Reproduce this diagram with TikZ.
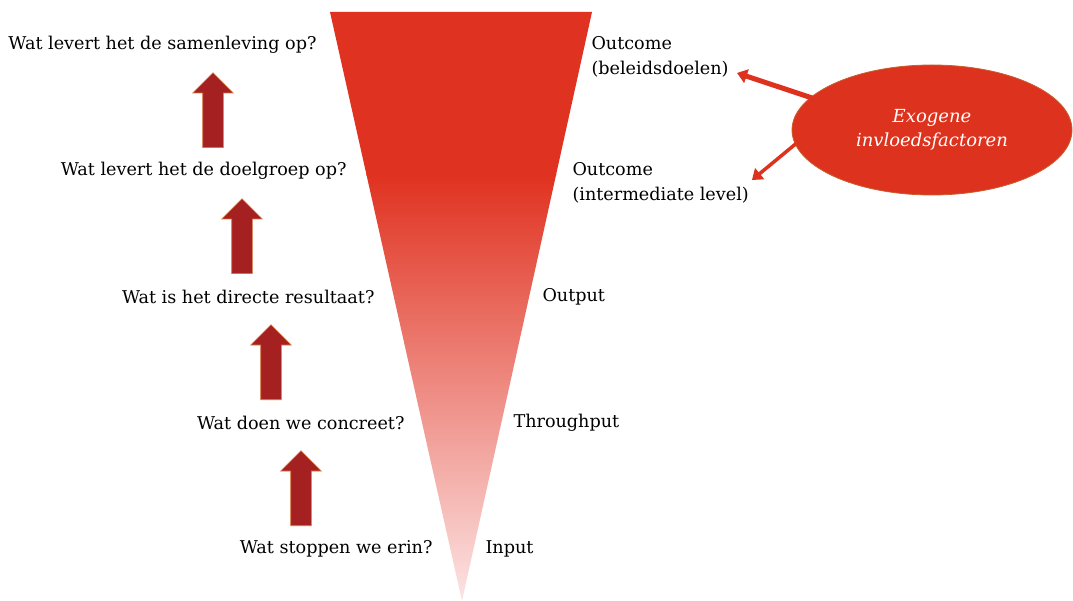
\documentclass[tikz,border=0pt]{standalone}
\usepackage{fontspec}
\setmainfont{DejaVu Serif}
\usetikzlibrary{shapes.geometric,shapes.arrows,arrows.meta}

\definecolor{funnelred}{RGB}{224,50,32}
\definecolor{funnelpink}{RGB}{252,228,228}
\definecolor{arrowred}{RGB}{165,32,32}
\definecolor{arrowrim}{RGB}{214,120,60}
\definecolor{exored}{RGB}{220,50,30}
\definecolor{exorim}{RGB}{200,95,45}

\tikzset{
  question/.style={anchor=east, font=\fontsize{17.6}{20}\selectfont},
  level/.style={anchor=west, align=left, font=\fontsize{17.6}{25}\selectfont},
  uparrow/.style={single arrow, rotate=90, anchor=tail, fill=arrowred, draw=arrowrim,
    line width=0.6pt, minimum height=75pt, minimum width=40pt,
    single arrow head extend=10pt, inner xsep=0pt, inner ysep=10pt},
  influence/.style={draw=exored, shorten <=-5pt, -{Triangle[width=14pt,length=10pt]}}
}

\begin{document}
\begin{tikzpicture}[x=1pt,y=-1pt]
    \useasboundingbox (0,0) rectangle (1073,601);

    % funnel
    \begin{scope}
        \clip (330,12) -- (592,12) -- (462,601) -- cycle;
        \fill[funnelred] (320,0) rectangle (600,176);
        \shade[top color=funnelred, bottom color=funnelpink] (320,175) rectangle (600,601);
    \end{scope}

    % questions
    \node[question] (q5) at (320,45) {Wat levert het de samenleving op?};
    \node[question] (q4) at (350,171) {Wat levert het de doelgroep op?};
    \node[question] (q3) at (378,297) {Wat is het directe resultaat?};
    \node[question] (q2) at (408,423) {Wat doen we concreet?};
    \node[question] (q1) at (436,549) {Wat stoppen we erin?};

    % levels
    \node[level] (l5) at (588,57) {Outcome\\(beleidsdoelen)};
    \node[level] (l4) at (569,183) {Outcome\\(intermediate level)};
    \node[level] (l3) at (539,297) {Output};
    \node[level] (l2) at (510,423) {Throughput};
    \node[level] (l1) at (482,549) {Input};

    % arrows
    \node[uparrow] (a4) at (213,148) {};
    \node[uparrow] (a3) at (242,274) {};
    \node[uparrow] (a2) at (271,400) {};
    \node[uparrow] (a1) at (301,526) {};

    % exogenous factors
    \node[ellipse, fill=exored, draw=exorim, line width=0.8pt, minimum width=280pt,
        minimum height=130pt, text=white, align=center,
        font=\itshape\fontsize{18}{24}\selectfont] (exo) at (932,130)
        {Exogene\\invloedsfactoren};
    \coordinate (e5) at (737,73);
    \coordinate (e4) at (752,180);
    \draw[influence, line width=5pt] (exo.165) -- (e5);
    \draw[influence, line width=3.5pt] (exo.186) -- (e4);
\end{tikzpicture}
\end{document}
